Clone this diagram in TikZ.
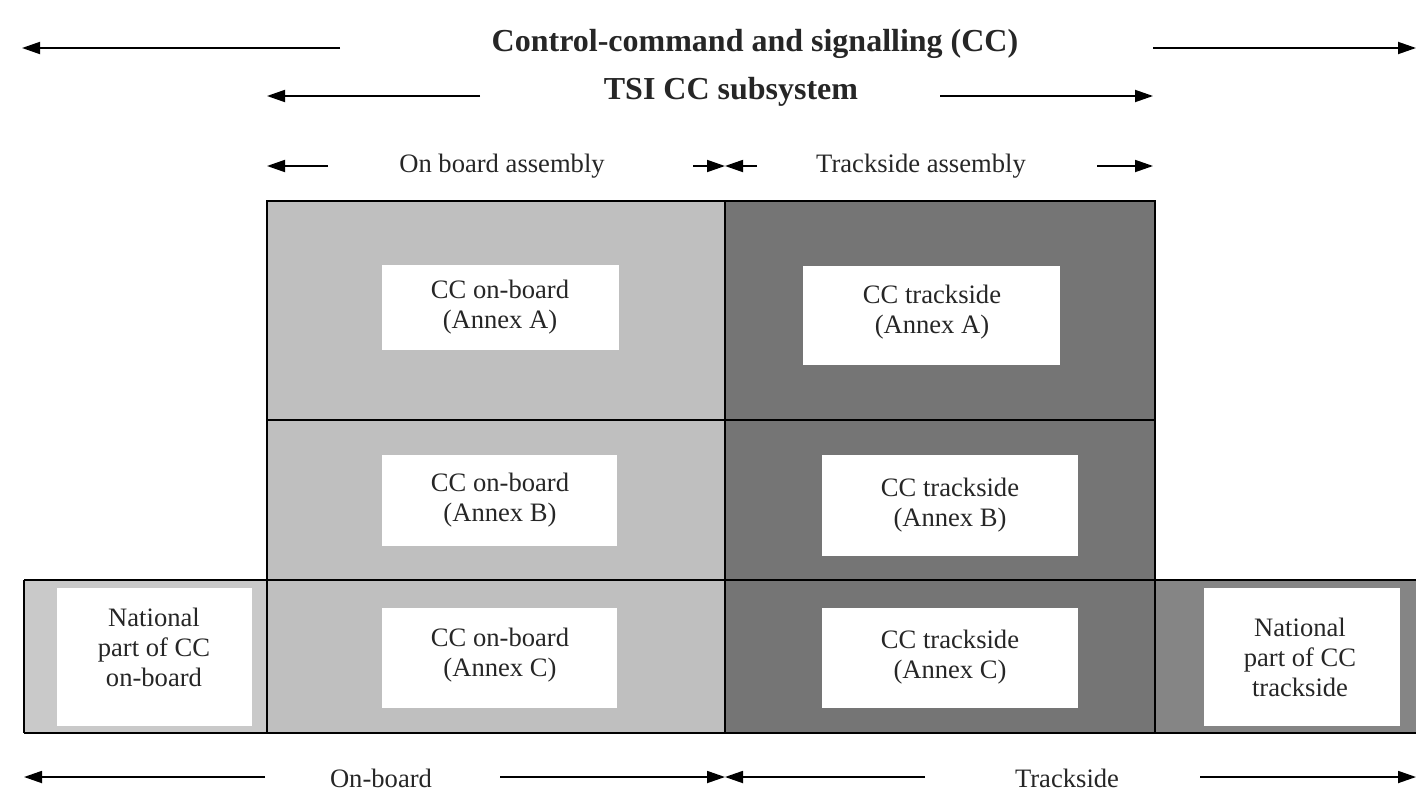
\documentclass[tikz,border=0pt]{standalone}
\usepackage{fontspec}
\setmainfont{Liberation Serif}
\usetikzlibrary{arrows.meta}
\definecolor{onboardgrey}{gray}{0.75}
\definecolor{tracksidegrey}{gray}{0.46}
\definecolor{natonboardgrey}{gray}{0.79}
\definecolor{nattracksidegrey}{gray}{0.52}
\tikzset{
  dimarrow/.style={line width=0.9pt,-{Triangle[length=9pt,width=6pt]}},
  boxline/.style={line width=1pt},
  txt/.style={font=\fontsize{13.3}{15}\selectfont,align=center,inner sep=0pt,text=black!85},
  headtxt/.style={font=\fontsize{16}{18}\selectfont\bfseries,inner sep=0pt,text=black!85}
}
\begin{document}
\begin{tikzpicture}[x=0.5pt,y=-0.5pt]
\useasboundingbox (0,0) rectangle (1416,792);
% shaded areas
\fill[onboardgrey] (267,201) rectangle (725,733);
\fill[tracksidegrey] (725,201) rectangle (1155,733);
\fill[natonboardgrey] (24,580) rectangle (267,733);
\fill[nattracksidegrey] (1155,580) rectangle (1416,733);
% frame lines
\draw[boxline] (267,201) rectangle (1155,733);
\draw[boxline] (725,201) -- (725,733);
\draw[boxline] (267,420) -- (1155,420);
\draw[boxline] (24,580) -- (1416,580);
\draw[boxline] (24,733) -- (1416,733);
\draw[boxline] (24,580) -- (24,733);
% white boxes
\fill[white] (382,265) rectangle (619,350);
\fill[white] (803,266) rectangle (1060,365);
\fill[white] (382,455) rectangle (617,546);
\fill[white] (822,455) rectangle (1078,556);
\fill[white] (382,608) rectangle (617,708);
\fill[white] (822,608) rectangle (1078,708);
\fill[white] (57,588) rectangle (252,726);
\fill[white] (1204,588) rectangle (1400,726);
% box texts
\node[txt] (obA) at (500,307) {CC on-board\\(Annex A)};
\node[txt] (tsA) at (932,312) {CC trackside\\(Annex A)};
\node[txt] (obB) at (500,500) {CC on-board\\(Annex B)};
\node[txt] (tsB) at (950,505) {CC trackside\\(Annex B)};
\node[txt] (obC) at (500,655) {CC on-board\\(Annex C)};
\node[txt] (tsC) at (950,657) {CC trackside\\(Annex C)};
\node[txt] (natob) at (154,647) {National\\part of CC\\on-board};
\node[txt] (natts) at (1300,657) {National\\part of CC\\trackside};
% headings
\node[headtxt] (ccsys) at (755,44) {Control-command and signalling (CC)};
\node[headtxt] (tsisys) at (731,92) {TSI CC subsystem};
\node[txt] (obasm) at (502,166) {On board assembly};
\node[txt] (tsasm) at (921,166) {Trackside assembly};
\node[txt] (obfoot) at (381,778) {On-board};
\node[txt] (tsfoot) at (1067,778) {Trackside};
% arrow ends
\coordinate (ccLs) at (340,48);  \coordinate (ccLe) at (22,48);
\coordinate (ccRs) at (1153,48); \coordinate (ccRe) at (1416,48);
\coordinate (tsiLs) at (480,96); \coordinate (tsiLe) at (267,96);
\coordinate (tsiRs) at (940,96); \coordinate (tsiRe) at (1153,96);
\coordinate (asmLs) at (328,166); \coordinate (asmLe) at (267,166);
\coordinate (asmMa) at (693,166); \coordinate (asmMb) at (757,166);
\coordinate (asmM) at (725,166);
\coordinate (asmRs) at (1097,166); \coordinate (asmRe) at (1153,166);
\coordinate (ftLs) at (265,777); \coordinate (ftLe) at (24,777);
\coordinate (ftMa) at (500,777); \coordinate (ftMb) at (925,777);
\coordinate (ftM) at (725,777);
\coordinate (ftRs) at (1200,777); \coordinate (ftRe) at (1416,777);
% arrows
\draw[dimarrow] (ccLs) -- (ccLe);
\draw[dimarrow] (ccRs) -- (ccRe);
\draw[dimarrow] (tsiLs) -- (tsiLe);
\draw[dimarrow] (tsiRs) -- (tsiRe);
\draw[dimarrow] (asmLs) -- (asmLe);
\draw[dimarrow] (asmMa) -- (asmM);
\draw[dimarrow] (asmMb) -- (asmM);
\draw[dimarrow] (asmRs) -- (asmRe);
\draw[dimarrow] (ftLs) -- (ftLe);
\draw[dimarrow] (ftMa) -- (ftM);
\draw[dimarrow] (ftMb) -- (ftM);
\draw[dimarrow] (ftRs) -- (ftRe);
\end{tikzpicture}
\end{document}
